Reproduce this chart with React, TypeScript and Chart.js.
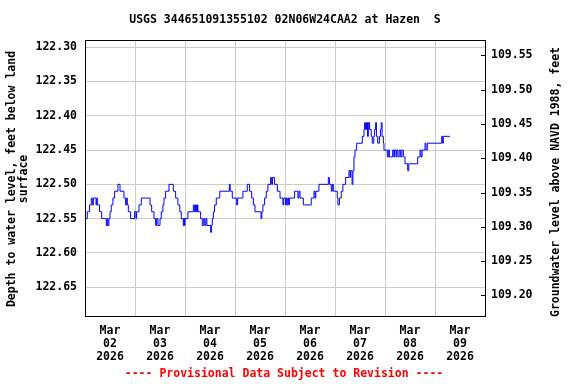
import { useEffect, useRef } from 'react';
import { Chart, registerables } from 'chart.js';

Chart.register(...registerables);

const chartTitle = 'USGS 344651091355102 02N06W24CAA2 at Hazen  S';
const footerText = '---- Provisional Data Subject to Revision ----';
const leftAxisTitle = ['Depth to water level, feet below land', 'surface'];
const rightAxisTitle = 'Groundwater level above NAVD 1988, feet';

const monthLabel = 'Mar';
const yearLabel = '2026';
const dayLabels = ['02', '03', '04', '05', '06', '07', '08', '09'];

const leftTicks = [122.3, 122.35, 122.4, 122.45, 122.5, 122.55, 122.6, 122.65];
const rightTicks = [109.2, 109.25, 109.3, 109.35, 109.4, 109.45, 109.5, 109.55];

const landSurfaceElevation = 231.862;
const depthMin = 122.2895;
const depthMax = 122.692;

// hours since Mar 02 2026 00:00
const hours = [
  0.0, 1.1, 2.2, 3.0, 3.5, 4.0, 5.3, 5.6, 5.9, 7.0, 8.0, 10.2, 10.7, 11.0, 11.5, 12.0, 12.6, 13.4, 14.2, 15.8,
  16.8, 18.7, 19.5, 20.0, 20.3, 20.8, 21.9, 23.8, 24.5, 24.8, 25.9, 27.0, 31.2, 32.0, 33.1, 33.9, 34.4, 35.0,
  36.0, 36.6, 37.4, 37.9, 38.7, 40.3, 42.4, 43.5, 44.6, 45.5, 46.2, 47.2, 47.5, 47.8, 48.0, 49.4, 52.0, 52.5,
  53.0, 53.5, 54.0, 54.2, 55.5, 56.3, 57.0, 57.5, 58.0, 58.5, 60.3, 60.7, 61.1, 61.6, 62.2, 63.0, 64.7, 69.3,
  69.7, 70.7, 72.8, 73.3, 75.8, 77.9, 79.0, 80.0, 80.8, 81.6, 84.5, 84.9, 85.4, 86.2, 87.0, 87.8, 89.1, 89.6,
  90.0, 91.0, 92.3, 93.6, 95.0, 95.4, 96.3, 96.6, 97.0, 97.4, 97.8, 98.1, 100.6, 102.2, 102.7, 103.2, 104.8,
  108.6, 109.9, 110.4, 110.8, 112.3, 116.8, 117.3, 118.2, 118.7, 119.2, 121.1, 121.4, 122.1, 123.0, 123.8,
  125.1, 126.7, 127.2, 127.5, 128.2, 128.6, 129.1, 129.6, 130.4, 133.1, 133.9, 134.2, 134.6, 135.1, 135.6,
  136.0, 136.6, 137.4, 137.9, 138.6, 139.0, 139.5, 139.9, 140.5, 141.3, 141.8, 142.2, 142.6, 143.2, 143.5,
  145.1, 145.6, 146.1, 147.7, 148.2, 148.6, 149.3, 149.6, 150.2, 150.8, 151.5, 152.1, 152.8, 153.6, 154.9,
  155.4, 159.7, 160.8, 161.3, 161.8, 163.2, 163.7, 164.3, 171.2, 171.7, 172.0, 175.2,
];

const depthValues = [
  122.55, 122.54, 122.53, 122.52, 122.53, 122.52, 122.53, 122.52, 122.53, 122.54, 122.55, 122.56, 122.55, 122.56, 122.55, 122.54, 122.53, 122.52, 122.51, 122.50,
  122.51, 122.52, 122.53, 122.52, 122.53, 122.54, 122.55, 122.54, 122.55, 122.54, 122.53, 122.52, 122.53, 122.54, 122.55, 122.56, 122.55, 122.56,
  122.55, 122.54, 122.53, 122.52, 122.51, 122.50, 122.51, 122.52, 122.53, 122.54, 122.55, 122.56, 122.55, 122.56, 122.55, 122.54, 122.53, 122.54,
  122.53, 122.54, 122.53, 122.54, 122.55, 122.56, 122.55, 122.56, 122.55, 122.56, 122.57, 122.56, 122.55, 122.54, 122.53, 122.52, 122.51, 122.50,
  122.51, 122.52, 122.53, 122.52, 122.51, 122.50, 122.51, 122.52, 122.53, 122.54, 122.55, 122.54, 122.53, 122.52, 122.51, 122.50, 122.49, 122.50,
  122.49, 122.50, 122.51, 122.52, 122.53, 122.52, 122.53, 122.52, 122.53, 122.52, 122.53, 122.52, 122.51, 122.52, 122.51, 122.52, 122.53,
  122.52, 122.51, 122.52, 122.51, 122.50, 122.49, 122.50, 122.51, 122.50, 122.51, 122.52, 122.53, 122.52, 122.51, 122.50,
  122.49, 122.48, 122.49, 122.48, 122.50, 122.48, 122.46, 122.45, 122.44, 122.43, 122.42, 122.41, 122.42, 122.41, 122.43,
  122.41, 122.42, 122.43, 122.44, 122.43, 122.42, 122.41, 122.43, 122.44, 122.43, 122.42, 122.41, 122.43, 122.44, 122.45,
  122.46, 122.45, 122.46, 122.45, 122.46, 122.45, 122.46, 122.45, 122.46, 122.45, 122.46, 122.45, 122.46, 122.47, 122.48,
  122.47, 122.46, 122.45, 122.46, 122.45, 122.44, 122.45, 122.44, 122.43, 122.44, 122.43, 122.43,
];

const FONT_FAMILY = '"DejaVu Sans Mono", monospace';
const FONT_SIZE = 11.5;

const decorPlugin = {
  id: 'decor',
  afterDraw(chart: any) {
    const { ctx, chartArea } = chart;
    const { left, right, top, bottom } = chartArea;
    ctx.save();
    // border
    ctx.strokeStyle = '#000';
    ctx.lineWidth = 1;
    ctx.strokeRect(Math.round(left) + 0.5, Math.round(top) + 0.5, Math.round(right - left), Math.round(bottom - top));
    // right axis inner tick marks
    const yr = chart.scales.y2;
    ctx.beginPath();
    rightTicks.forEach((v) => {
      const py = Math.round(yr.getPixelForValue(v)) + 0.5;
      ctx.moveTo(right - 4, py);
      ctx.lineTo(right, py);
    });
    ctx.stroke();

    ctx.font = `bold ${FONT_SIZE}px ${FONT_FAMILY}`;
    ctx.fillStyle = '#000';
    ctx.textAlign = 'center';
    ctx.textBaseline = 'middle';
    ctx.fillText(chartTitle, 285, 20);

    // left axis title
    const midY = (top + bottom) / 2;
    ctx.save();
    ctx.translate(12, midY + 1);
    ctx.rotate(-Math.PI / 2);
    ctx.fillText(leftAxisTitle[0], 0, 0);
    ctx.restore();
    ctx.save();
    ctx.translate(24.5, midY + 1);
    ctx.rotate(-Math.PI / 2);
    ctx.fillText(leftAxisTitle[1], 0, 0);
    ctx.restore();

    // right axis title
    ctx.save();
    ctx.translate(556, midY + 4);
    ctx.rotate(-Math.PI / 2);
    ctx.fillText(rightAxisTitle, 0, 0);
    ctx.restore();

    // footer
    ctx.fillStyle = '#ff0000';
    ctx.fillText(footerText, 284, 374.5);
    ctx.restore();
  },
};

export default function App() {
  const canvasRef = useRef<HTMLCanvasElement | null>(null);

  useEffect(() => {
    if (!canvasRef.current) return;
    const tickFont = { family: FONT_FAMILY, size: FONT_SIZE, weight: 'bold' as const, lineHeight: 1.1 };
    const chart = new Chart(canvasRef.current, {
      type: 'line',
      data: {
        datasets: [
          {
            data: hours.map((h, i) => ({ x: h, y: depthValues[i] })),
            borderColor: '#0000ff',
            borderWidth: 1,
            pointRadius: 0,
            stepped: true,
            fill: false,
            yAxisID: 'y',
            xAxisID: 'x',
          },
        ],
      },
      options: {
        animation: false,
        responsive: false,
        devicePixelRatio: 1,
        layout: { padding: { top: 40, left: 0, right: 0, bottom: 0 } },
        plugins: { legend: { display: false }, tooltip: { enabled: false }, title: { display: false } },
        scales: {
          x: {
            type: 'linear',
            position: 'bottom',
            min: 0,
            max: dayLabels.length * 24,
            afterBuildTicks: (s: any) => {
              const t = [];
              for (let v = 0; v <= dayLabels.length * 24; v += 12) t.push({ value: v });
              s.ticks = t;
            },
            afterFit: (s: any) => {
              s.height = 68;
            },
            grid: {
              color: (c: any) => (c.tick && c.tick.value % 24 === 0 ? '#cccccc' : 'rgba(0,0,0,0)'),
              drawTicks: false,
            },
            border: { display: false },
            ticks: {
              autoSkip: false,
              maxRotation: 0,
              minRotation: 0,
              padding: 9,
              color: '#000',
              font: tickFont,
              callback: (v: any) => {
                const n = Number(v);
                if (n % 24 === 12) {
                  return [monthLabel, dayLabels[(n - 12) / 24], yearLabel];
                }
                return '';
              },
            },
          },
          y: {
            type: 'linear',
            position: 'left',
            reverse: true,
            min: depthMin,
            max: depthMax,
            afterBuildTicks: (s: any) => {
              s.ticks = leftTicks.map((v) => ({ value: v }));
            },
            afterFit: (s: any) => {
              s.width = 85;
            },
            grid: { color: '#cccccc', drawTicks: false },
            border: { display: false },
            ticks: {
              padding: 8,
              color: '#000',
              font: tickFont,
              callback: (v: any) => Number(v).toFixed(2),
            },
          },
          y2: {
            type: 'linear',
            position: 'right',
            min: landSurfaceElevation - depthMax,
            max: landSurfaceElevation - depthMin,
            afterBuildTicks: (s: any) => {
              s.ticks = rightTicks.map((v) => ({ value: v }));
            },
            afterFit: (s: any) => {
              s.width = 91;
            },
            grid: { drawOnChartArea: false, drawTicks: false },
            border: { display: false },
            ticks: {
              padding: 6,
              color: '#000',
              font: tickFont,
              callback: (v: any) => Number(v).toFixed(2),
            },
          },
        },
      },
      plugins: [decorPlugin],
    });
    return () => chart.destroy();
  }, []);

  return (
    <div style={{ position: 'fixed', left: 0, top: 0, width: 576, height: 384, background: '#fff' }}>
      <canvas ref={canvasRef} width={576} height={384} style={{ display: 'block' }} />
    </div>
  );
}
